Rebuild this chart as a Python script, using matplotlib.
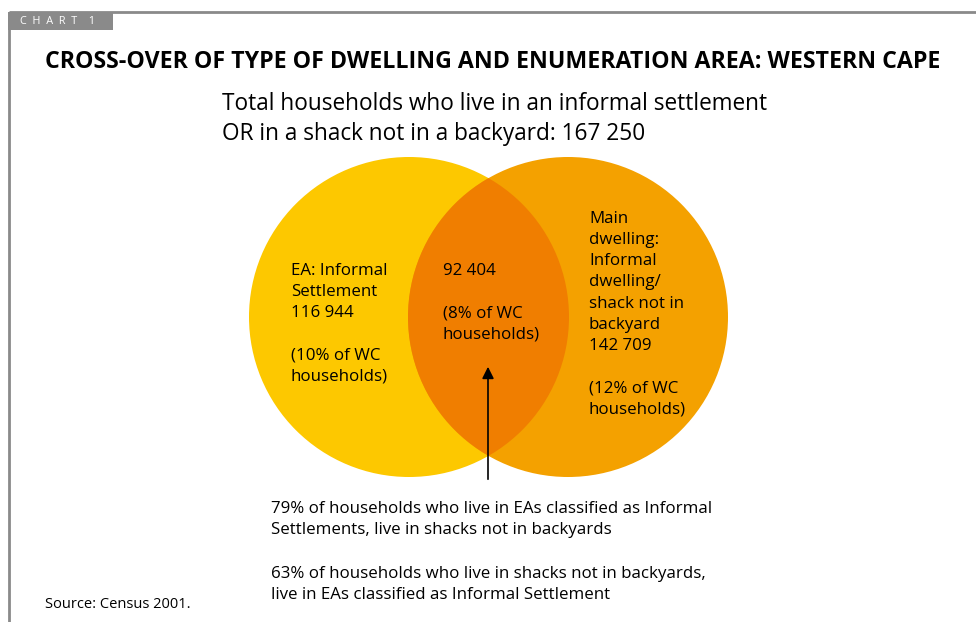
import matplotlib
matplotlib.use("Agg")
import matplotlib.pyplot as plt
from matplotlib.patches import Circle, Rectangle

# ---- data ----
title = "CROSS-OVER OF TYPE OF DWELLING AND ENUMERATION AREA: WESTERN CAPE"
total_label = "Total households who live in an informal settlement\nOR in a shack not in a backyard: 167 250"
set_names = ["EA: Informal\nSettlement", "Main\ndwelling:\nInformal\ndwelling/\nshack not in\nbackyard"]
set_values = [116944, 142709]
set_shares = [10, 12]
overlap_value = 92404
overlap_share = 8
notes = ["79% of households who live in EAs classified as Informal\nSettlements, live in shacks not in backyards",
         "63% of households who live in shacks not in backyards,\nlive in EAs classified as Informal Settlement"]
source = "Source: Census 2001."

def fmt(v):
    return f"{v:,}".replace(",", " ")

W, H = 976, 622
fig = plt.figure(figsize=(W/100, H/100), dpi=100)
ax = fig.add_axes([0, 0, 1, 1])
ax.set_xlim(0, W)
ax.set_ylim(H, 0)
ax.set_aspect("equal")
ax.axis("off")

FONT = "Open Sans"
grey = "#8a8a8a"

# frame
ax.plot([9, W], [12, 12], color=grey, lw=2, solid_capstyle="butt")
ax.plot([9, 9], [12, H], color=grey, lw=2, solid_capstyle="butt")
ax.add_patch(Rectangle((8, 12), 105, 18, color=grey, lw=0))
ax.text(20, 21.5, "C  H  A  R  T    1", color="white", fontsize=7.8, family=FONT,
        va="center", ha="left")

ax.text(45, 61.5, title, fontsize=16.7, weight="bold", family=FONT, va="center", ha="left")
ax.text(222, 119, total_label, fontsize=16.3, family=FONT, va="center", ha="left",
        linespacing=1.3)

# circles
c_left, c_right, cy, r = 409, 568, 317, 160
ax.add_patch(Circle((c_left, cy), r, color="#FDC800", lw=0, zorder=1))
ax.add_patch(Circle((c_right, cy), r, color="#F4A100", lw=0, zorder=1))
# overlap
ov = Circle((c_right, cy), r, color="#F07E00", lw=0, zorder=2)
ax.add_patch(ov)
clip = Circle((c_left, cy), r, transform=ax.transData)
ov.set_clip_path(clip)

fs = 12.2
ls = 1.43
ax.text(291, 263, f"{set_names[0]}\n{fmt(set_values[0])}\n\n({set_shares[0]}% of WC\nhouseholds)",
        fontsize=fs, family=FONT, va="top", ha="left", linespacing=ls, zorder=3)
ax.text(443, 263, f"{fmt(overlap_value)}\n\n({overlap_share}% of WC\nhouseholds)",
        fontsize=fs, family=FONT, va="top", ha="left", linespacing=ls, zorder=3)
ax.text(589, 211, f"{set_names[1]}\n{fmt(set_values[1])}\n\n({set_shares[1]}% of WC\nhouseholds)",
        fontsize=fs, family=FONT, va="top", ha="left", linespacing=ls, zorder=3)

# arrow
ax.annotate("", xy=(488, 364), xytext=(488, 482),
            arrowprops=dict(arrowstyle="-|>,head_width=0.35,head_length=0.7",
                            color="black", lw=1.2), zorder=4)

ax.text(271, 501, notes[0], fontsize=fs, family=FONT, va="top", ha="left", linespacing=ls)
ax.text(271, 566, notes[1], fontsize=fs, family=FONT, va="top", ha="left", linespacing=ls)
ax.text(45, 605, source, fontsize=10.5, family=FONT, va="center", ha="left")

fig.savefig("out.png", dpi=100)
